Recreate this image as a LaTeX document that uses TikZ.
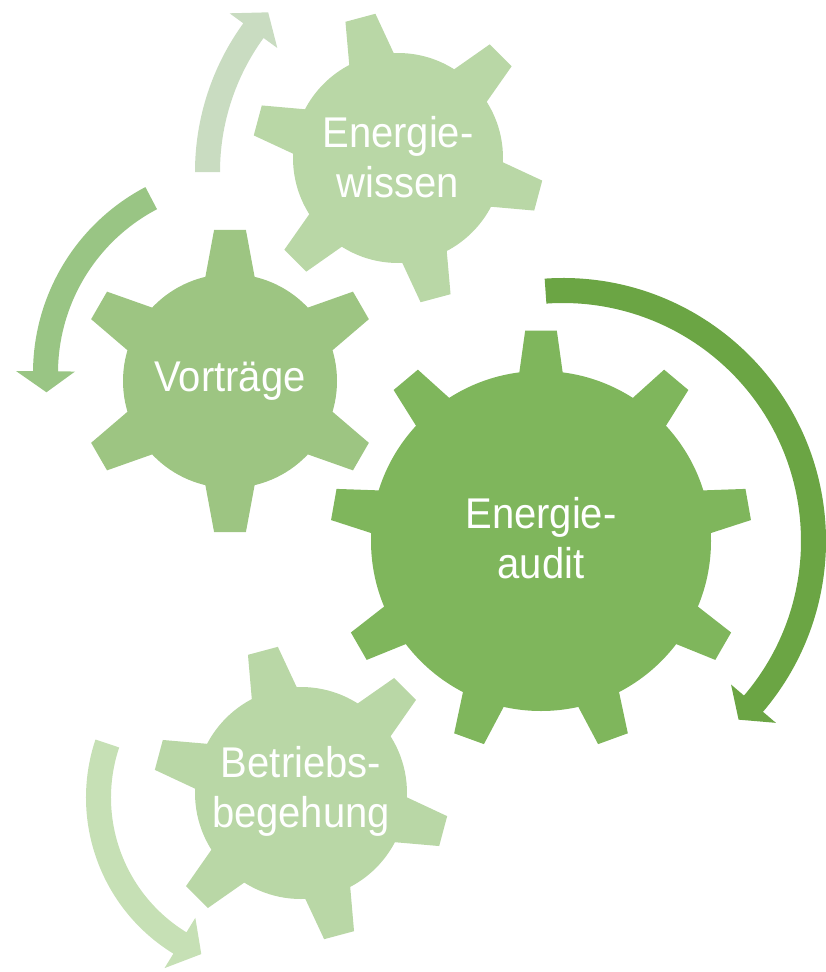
\documentclass[tikz,border=0pt]{standalone}
\usepackage{fontspec}
\setmainfont{Liberation Sans}[FakeStretch=0.93]
\usetikzlibrary{positioning}

\definecolor{gearlight}{HTML}{B9D7A6}
\definecolor{gearmid}{HTML}{9DC582}
\definecolor{geardark}{HTML}{7FB65C}
\definecolor{arrowdark}{HTML}{6BA544}
\definecolor{arrowmid}{HTML}{99C584}
\definecolor{arrowpale}{HTML}{C9DCC1}
\definecolor{arrowlight}{HTML}{C6E0B5}

% gear: centre, body r, tip r, first tooth, step, last index, base half angle, tip half angle, colour
\newcommand{\gearwheel}[9]{%
  \begin{scope}[shift={#1}]
    \fill[#9] (0,0) circle (#2);
    \foreach \k in {0,...,#6}
      \fill[#9] ({#4+#5*\k-#7}:{#2-4}) -- ({#4+#5*\k-#8}:#3)
        -- ({#4+#5*\k+#8}:#3) -- ({#4+#5*\k+#7}:{#2-4}) -- cycle;
  \end{scope}}

% ring arrow: centre, inner r, outer r, tail angle, head angle, tip angle, colour
\newcommand{\ringarrow}[7]{%
  \begin{scope}[shift={#1}]
    \fill[#7] (#4:#3) arc[start angle=#4, end angle=#5, radius=#3]
      -- (#5:{#3+17}) -- (#6:{(#2+#3)/2}) -- (#5:{#2-17}) -- (#5:#2)
      arc[start angle=#5, end angle=#4, radius=#2] -- cycle;
  \end{scope}}

\begin{document}
\begin{tikzpicture}[
    x=1pt, y=1pt,
    gearlabel/.style={text=white, align=center, inner sep=0pt, font=\fontsize{43}{50}\selectfont},
]
    \useasboundingbox (0,0) rectangle (825,-972);

    % arrows
    \ringarrow{(448,-172)}{228}{253}{180}{144}{138.4}{arrowpale}
    \ringarrow{(243,-373)}{185}{210}{117.7}{179.5}{185.6}{arrowmid}
    \ringarrow{(563,-541)}{238}{263}{94}{-40.5}{-45.5}{arrowdark}
    \ringarrow{(269,-797.6)}{158}{183}{161.5}{238.5}{246.6}{arrowlight}

    % gears
    \gearwheel{(398,-158)}{105}{146}{105}{60}{5}{13.6}{6.1}{gearlight}
    \gearwheel{(230,-381)}{107}{152}{90}{60}{5}{14.3}{6.0}{gearmid}
    \gearwheel{(541,-541)}{170}{211}{90}{40}{8}{7.7}{4.3}{geardark}
    \gearwheel{(301,-793)}{106}{148}{105}{60}{5}{13.6}{6.0}{gearlight}

    % labels
    \node[gearlabel] (wissen) at (398,-157) {Energie-\\wissen};
    \node[gearlabel] (vortraege) at (230,-381) {Vorträge};
    \node[gearlabel] (audit) at (541,-538) {Energie-\\audit};
    \node[gearlabel] (betrieb) at (301,-791) {Betriebs-\\begehung};

\end{tikzpicture}
\end{document}
